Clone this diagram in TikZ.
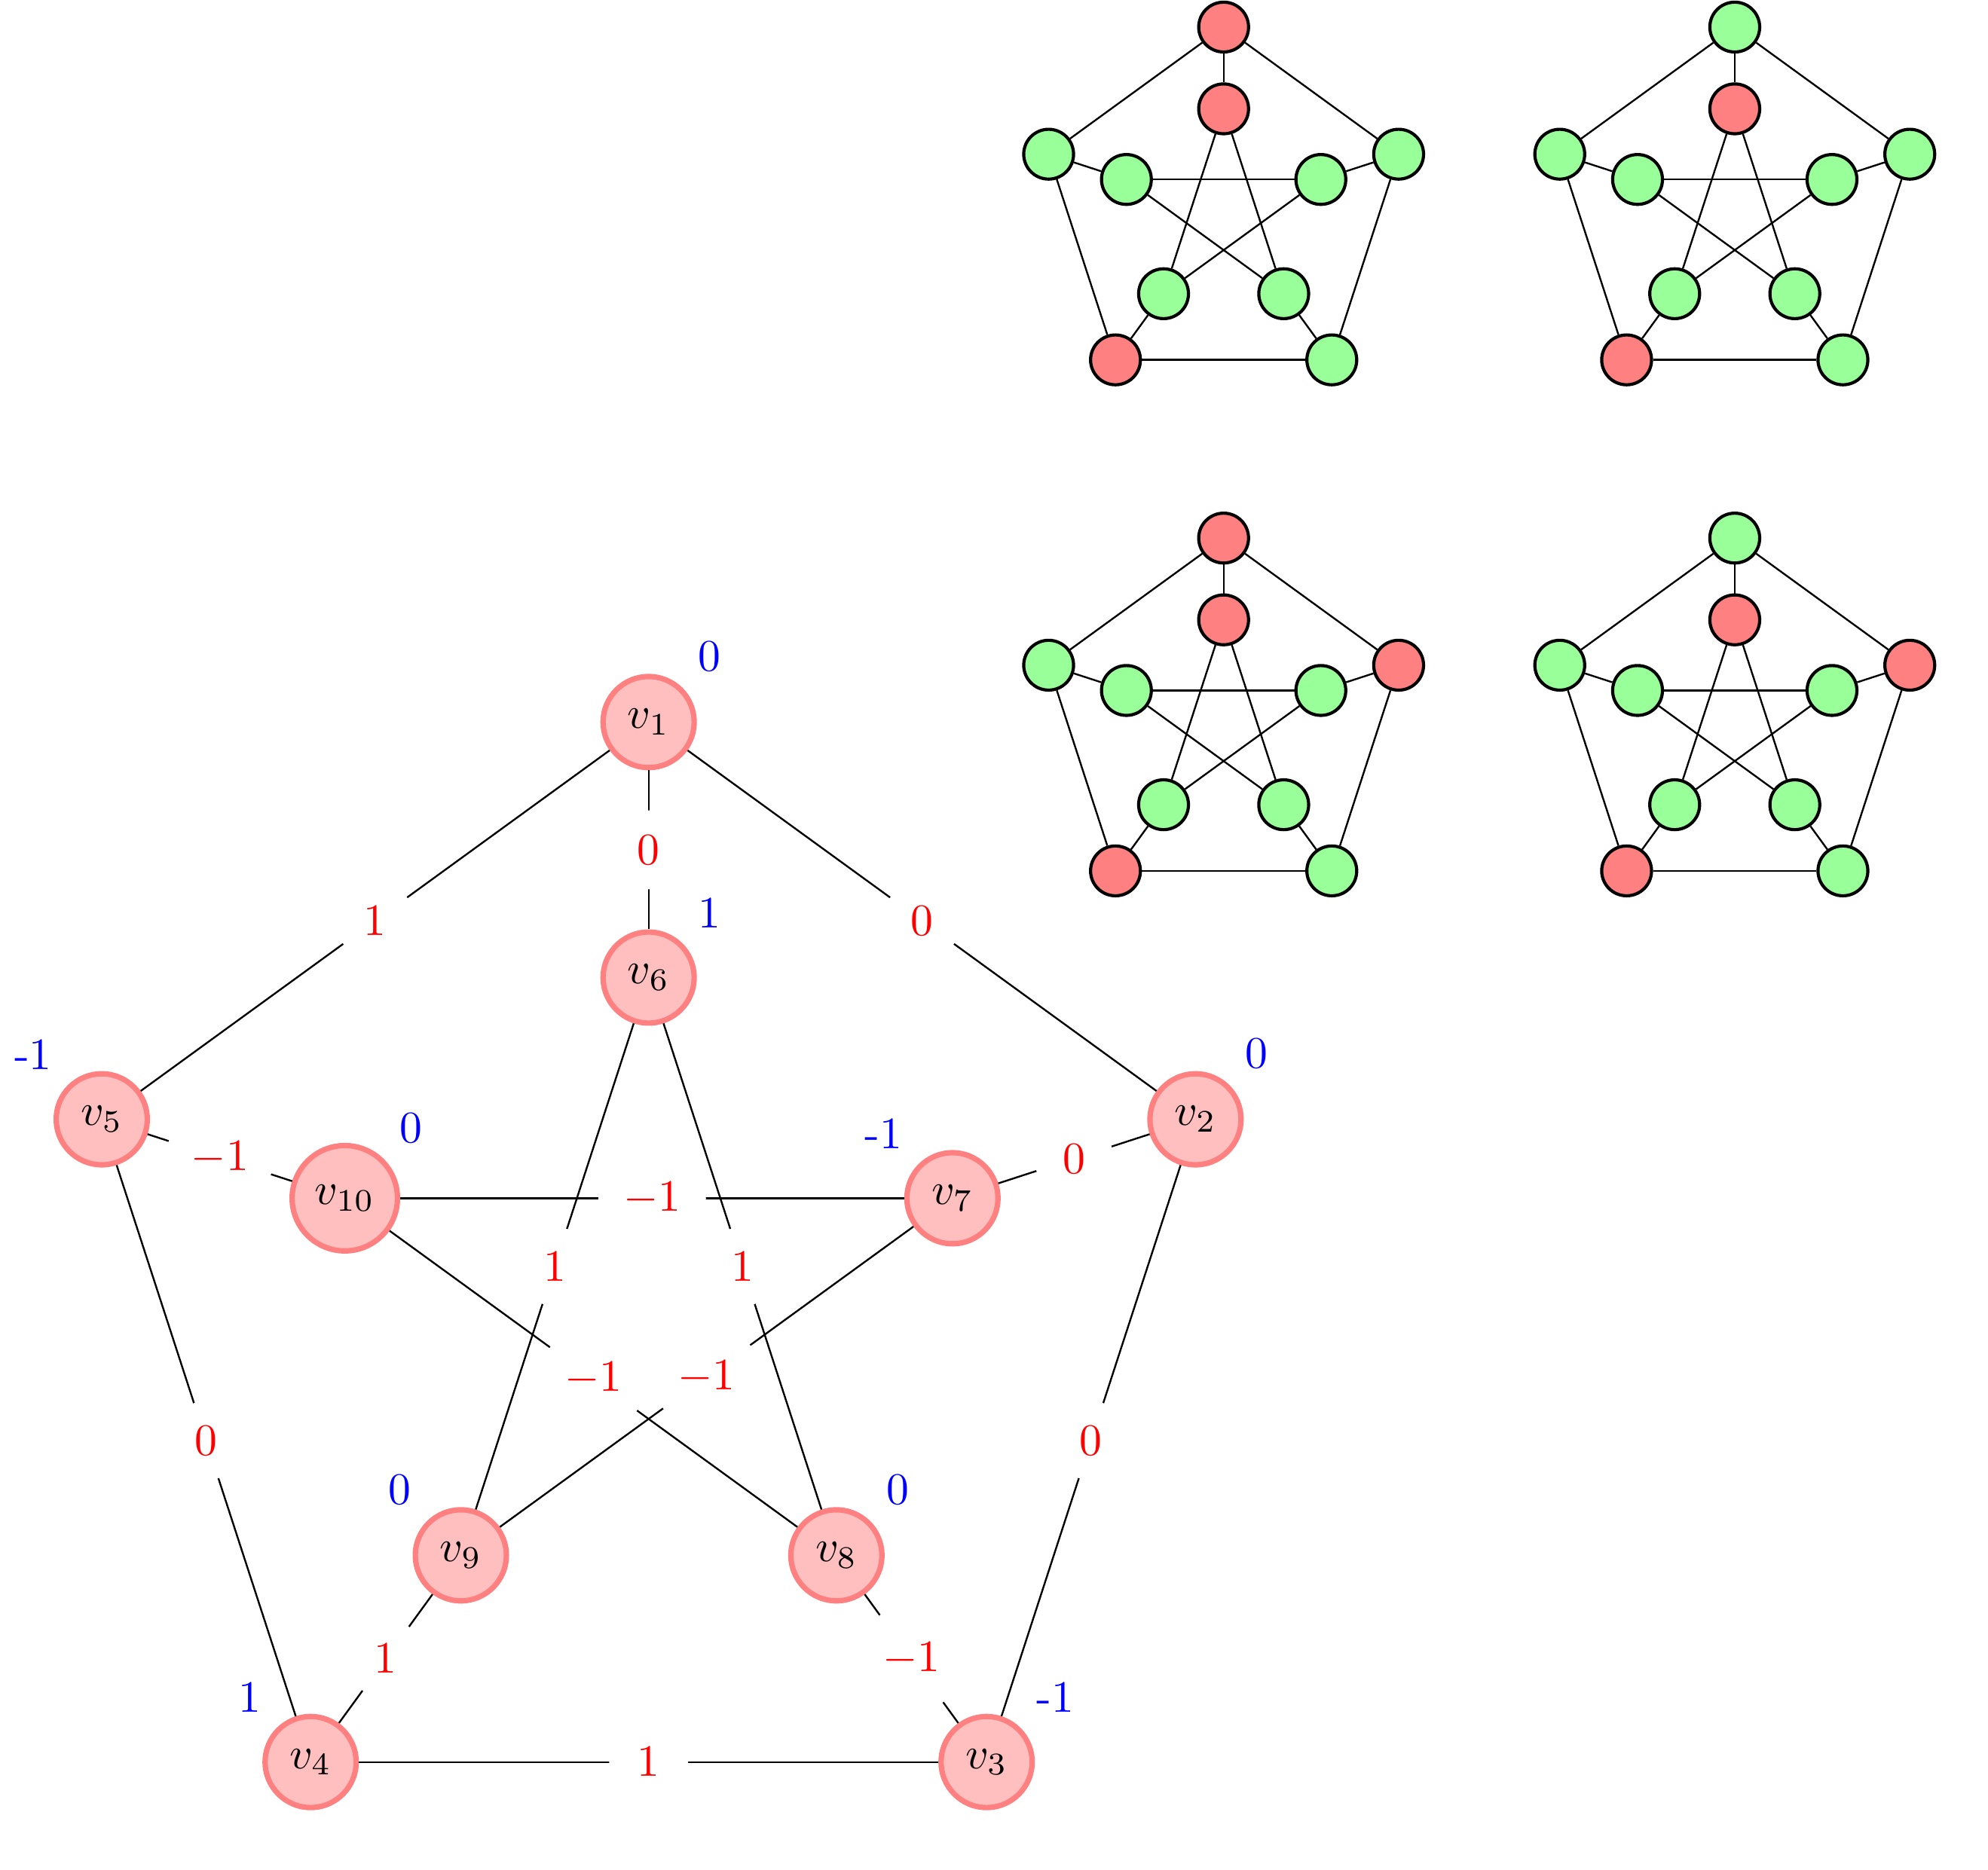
\documentclass[tikz,border=0pt]{standalone}
\colorlet{sR}{red!50}
\colorlet{sG}{green!40}
\newcommand{\smallpet}[3]{%
  \begin{scope}[shift={(#2)}]
    \foreach \i/\c in {#3}{%
      \pgfmathtruncatemacro\k{mod(\i-1,5)}%
      \pgfmathsetmacro\rr{\i<6 ? 1.44 : 0.8}%
      \node[sv, fill=\c] (#1\i) at ({90-72*\k}:\rr) {};
    }
    \foreach \a/\b in {1/2,2/3,3/4,4/5,5/1,1/6,2/7,3/8,4/9,5/10,6/8,8/10,10/7,7/9,9/6}{%
      \draw (#1\a) -- (#1\b);
    }
  \end{scope}}
\begin{document}
\begin{tikzpicture}[
  mv/.style={circle, draw=red!50, fill=red!25, very thick},
  elab/.style={circle, fill=white, text=red},
  vlab/.style={text=blue},
  sv/.style={circle, draw=black, line width=0.7pt, minimum size=0.39cm, inner sep=0pt}
]
\useasboundingbox (-5.076,-4.484) rectangle (10.482,10.152);

% main Petersen graph
\node[mv] (v1) at (90:4.5) {$v_1$};
\node[mv] (v2) at (18:4.5) {$v_2$};
\node[mv] (v3) at (-54:4.5) {$v_3$};
\node[mv] (v4) at (-126:4.5) {$v_4$};
\node[mv] (v5) at (162:4.5) {$v_5$};
\node[mv] (v6) at (90:2.5) {$v_6$};
\node[mv] (v7) at (18:2.5) {$v_7$};
\node[mv] (v8) at (-54:2.5) {$v_8$};
\node[mv] (v9) at (-126:2.5) {$v_9$};
\node[mv] (v10) at (162:2.5) {$v_{10}$};

\draw (v1) -- node[elab] (e15) {$1$} (v5);
\draw (v1) -- node[elab] (e16) {$0$} (v6);
\draw (v1) -- node[elab] (e12) {$0$} (v2);
\draw (v5) -- node[elab] (e510) {$-1$} (v10);
\draw (v10) -- node[elab] (e107) {$-1$} (v7);
\draw (v7) -- node[elab] (e72) {$0$} (v2);
\draw (v6) -- node[elab] (e69) {$1$} (v9);
\draw (v6) -- node[elab] (e68) {$1$} (v8);
\draw (v10) -- node[elab] (e108) {$-1$} (v8);
\draw (v7) -- node[elab] (e79) {$-1$} (v9);
\draw (v5) -- node[elab] (e54) {$0$} (v4);
\draw (v2) -- node[elab] (e23) {$0$} (v3);
\draw (v9) -- node[elab] (e94) {$1$} (v4);
\draw (v8) -- node[elab] (e83) {$-1$} (v3);
\draw (v4) -- node[elab] (e43) {$1$} (v3);

\node[vlab, anchor=south west] (l1) at (v1.north east) {0};
\node[vlab, anchor=south west] (l2) at (v2.north east) {0};
\node[vlab, anchor=south west] (l3) at (v3.north east) {-1};
\node[vlab, anchor=south east] (l4) at (v4.north west) {1};
\node[vlab, anchor=south east] (l5) at (v5.north west) {-1};
\node[vlab, anchor=south west] (l6) at (v6.north east) {1};
\node[vlab, anchor=south east] (l7) at (v7.north west) {-1};
\node[vlab, anchor=south west] (l8) at (v8.north east) {0};
\node[vlab, anchor=south east] (l9) at (v9.north west) {0};
\node[vlab, anchor=south west] (l10) at (v10.north east) {0};

% small colourings
\smallpet{a}{4.5,8.5}{1/sR,2/sG,3/sG,4/sR,5/sG,6/sR,7/sG,8/sG,9/sG,10/sG}
\smallpet{b}{8.5,8.5}{1/sG,2/sG,3/sG,4/sR,5/sG,6/sR,7/sG,8/sG,9/sG,10/sG}
\smallpet{c}{4.5,4.5}{1/sR,2/sR,3/sG,4/sR,5/sG,6/sR,7/sG,8/sG,9/sG,10/sG}
\smallpet{d}{8.5,4.5}{1/sG,2/sR,3/sG,4/sR,5/sG,6/sR,7/sG,8/sG,9/sG,10/sG}
\end{tikzpicture}
\end{document}
